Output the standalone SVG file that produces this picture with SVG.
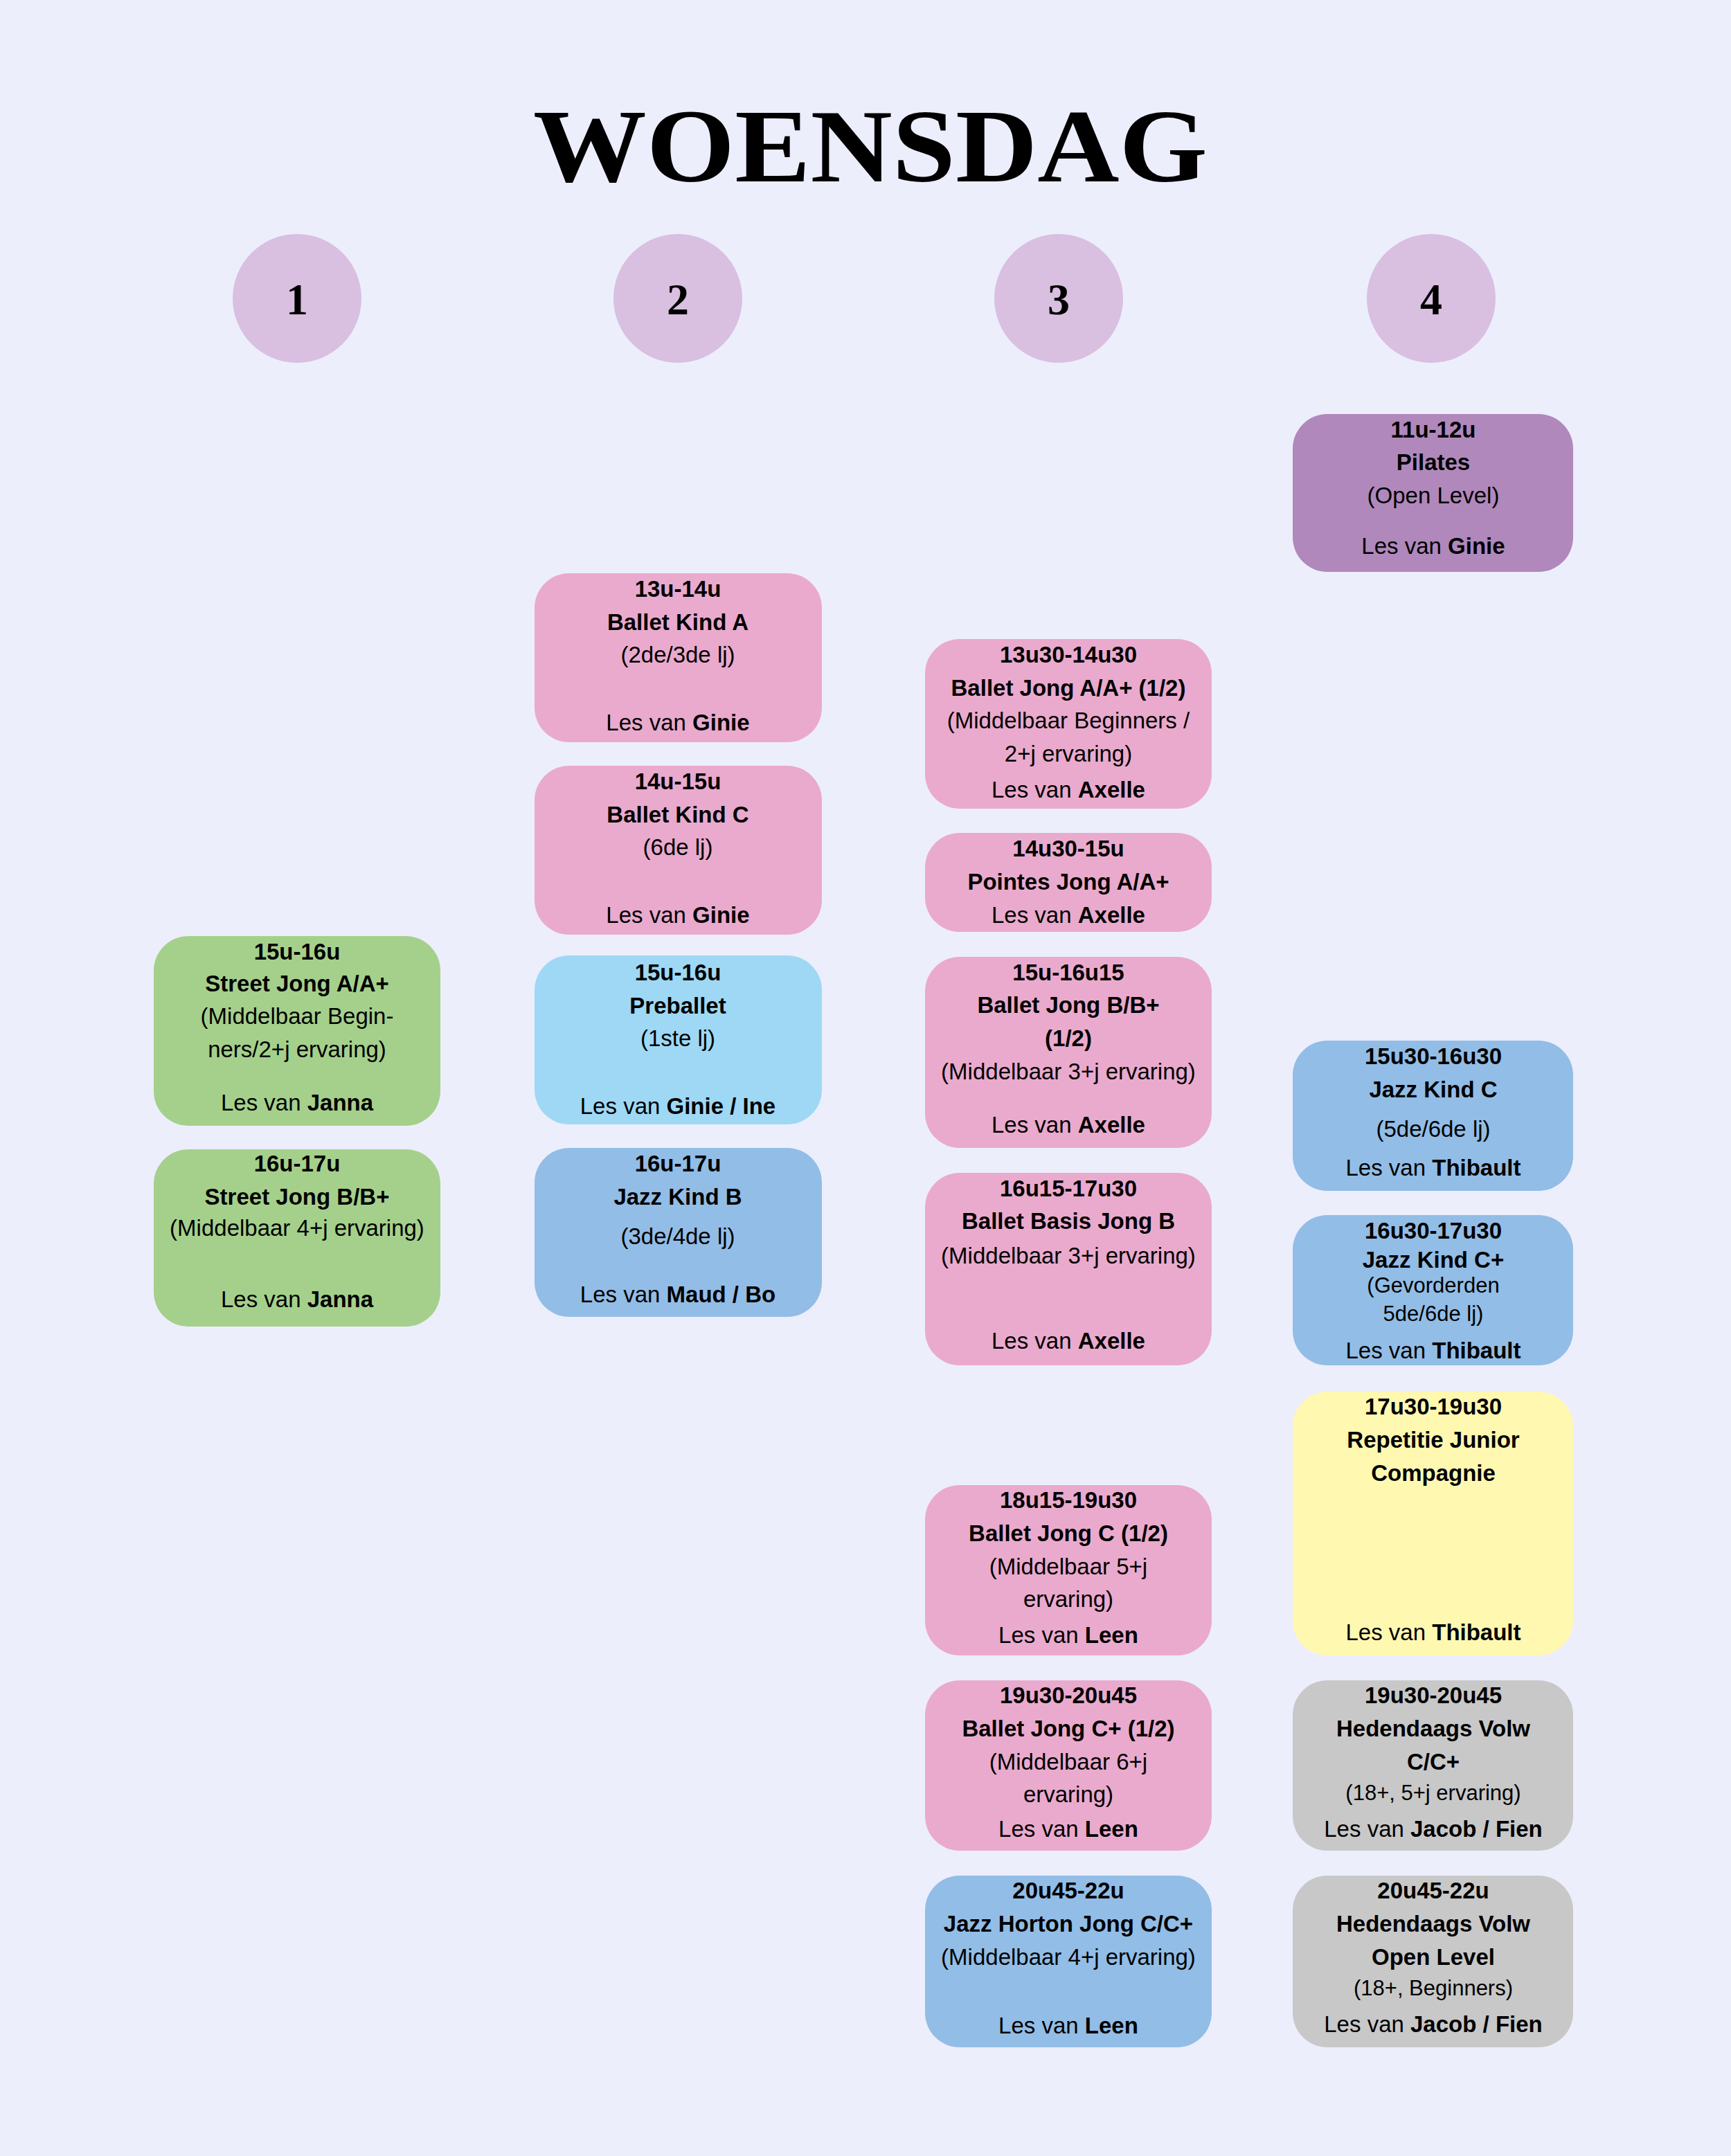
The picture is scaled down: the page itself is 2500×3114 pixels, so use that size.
<svg xmlns="http://www.w3.org/2000/svg" width="2500" height="3114" viewBox="0 0 2500 3114">
<style>
text{font-family:"Liberation Sans",Arial,sans-serif;font-size:33px;text-anchor:middle;fill:#000}
.b{font-weight:bold}
.s{font-size:31px}
.num{font-family:"Liberation Serif",serif;font-weight:bold;font-size:64px}
.title{font-family:"Liberation Serif",serif;font-weight:bold;font-size:150px}
.pk{fill:#eaaacd}.gr{fill:#a5d08c}.lb{fill:#9ed8f5}.bl{fill:#92bde6}.pu{fill:#b088bb}.ye{fill:#fff8b0}.gy{fill:#c8c8c8}
.c{fill:#d9bfe0}
</style>
<rect width="2500" height="3114" fill="#eceefc"/>
<text class="title" x="1257" y="262" textLength="974" lengthAdjust="spacingAndGlyphs">WOENSDAG</text>
<g id="headers">
<circle class="c" cx="429" cy="431" r="93"/><text class="num" x="429" y="454">1</text>
<circle class="c" cx="979" cy="431" r="93"/><text class="num" x="979" y="454">2</text>
<circle class="c" cx="1529" cy="431" r="93"/><text class="num" x="1529" y="454">3</text>
<circle class="c" cx="2067" cy="431" r="93"/><text class="num" x="2067" y="454">4</text>
</g>
<g id="pilates"><rect class="pu" x="1867" y="598" width="405" height="228" rx="50"/>
<text x="2070" y="632" class="b">11u-12u</text><text x="2070" y="679" class="b">Pilates</text><text x="2070" y="727">(Open Level)</text><text x="2070" y="800">Les van <tspan class="b">Ginie</tspan></text></g>
<g id="balletkindA"><rect class="pk" x="772" y="828" width="415" height="244" rx="50"/>
<text x="979" y="862" class="b">13u-14u</text><text x="979" y="910" class="b">Ballet Kind A</text><text x="979" y="957">(2de/3de lj)</text><text x="979" y="1055">Les van <tspan class="b">Ginie</tspan></text></g>
<g id="balletkindC"><rect class="pk" x="772" y="1106" width="415" height="244" rx="50"/>
<text x="979" y="1140" class="b">14u-15u</text><text x="979" y="1188" class="b">Ballet Kind C</text><text x="979" y="1235">(6de lj)</text><text x="979" y="1333">Les van <tspan class="b">Ginie</tspan></text></g>
<g id="preballet"><rect class="lb" x="772" y="1380" width="415" height="244" rx="50"/>
<text x="979" y="1416" class="b">15u-16u</text><text x="979" y="1464" class="b">Preballet</text><text x="979" y="1511">(1ste lj)</text><text x="979" y="1609">Les van <tspan class="b">Ginie / Ine</tspan></text></g>
<g id="jazzkindB"><rect class="bl" x="772" y="1658" width="415" height="244" rx="50"/>
<text x="979" y="1692" class="b">16u-17u</text><text x="979" y="1740" class="b">Jazz Kind B</text><text x="979" y="1797">(3de/4de lj)</text><text x="979" y="1881">Les van <tspan class="b">Maud / Bo</tspan></text></g>
<g id="street1"><rect class="gr" x="222" y="1352" width="414" height="274" rx="50"/>
<text x="429" y="1386" class="b">15u-16u</text><text x="429" y="1432" class="b">Street Jong A/A+</text><text x="429" y="1479">(Middelbaar Begin-</text><text x="429" y="1527">ners/2+j ervaring)</text><text x="429" y="1604">Les van <tspan class="b">Janna</tspan></text></g>
<g id="street2"><rect class="gr" x="222" y="1660" width="414" height="256" rx="50"/>
<text x="429" y="1692" class="b">16u-17u</text><text x="429" y="1740" class="b">Street Jong B/B+</text><text x="429" y="1785">(Middelbaar 4+j ervaring)</text><text x="429" y="1888">Les van <tspan class="b">Janna</tspan></text></g>
<g id="balletjongA"><rect class="pk" x="1336" y="923" width="414" height="245" rx="50"/>
<text x="1543" y="957" class="b">13u30-14u30</text><text x="1543" y="1005" class="b">Ballet Jong A/A+ (1/2)</text><text x="1543" y="1052">(Middelbaar Beginners /</text><text x="1543" y="1100">2+j ervaring)</text><text x="1543" y="1152">Les van <tspan class="b">Axelle</tspan></text></g>
<g id="pointes"><rect class="pk" x="1336" y="1203" width="414" height="143" rx="50"/>
<text x="1543" y="1237" class="b">14u30-15u</text><text x="1543" y="1285" class="b">Pointes Jong A/A+</text><text x="1543" y="1333">Les van <tspan class="b">Axelle</tspan></text></g>
<g id="balletjongB"><rect class="pk" x="1336" y="1382" width="414" height="276" rx="50"/>
<text x="1543" y="1416" class="b">15u-16u15</text><text x="1543" y="1463" class="b">Ballet Jong B/B+</text><text x="1543" y="1511" class="b">(1/2)</text><text x="1543" y="1559">(Middelbaar 3+j ervaring)</text><text x="1543" y="1636">Les van <tspan class="b">Axelle</tspan></text></g>
<g id="balletbasis"><rect class="pk" x="1336" y="1694" width="414" height="278" rx="50"/>
<text x="1543" y="1728" class="b">16u15-17u30</text><text x="1543" y="1775" class="b">Ballet Basis Jong B</text><text x="1543" y="1825">(Middelbaar 3+j ervaring)</text><text x="1543" y="1948">Les van <tspan class="b">Axelle</tspan></text></g>
<g id="balletjongC"><rect class="pk" x="1336" y="2145" width="414" height="246" rx="50"/>
<text x="1543" y="2178" class="b">18u15-19u30</text><text x="1543" y="2226" class="b">Ballet Jong C (1/2)</text><text x="1543" y="2274">(Middelbaar 5+j</text><text x="1543" y="2321">ervaring)</text><text x="1543" y="2373">Les van <tspan class="b">Leen</tspan></text></g>
<g id="balletjongCplus"><rect class="pk" x="1336" y="2427" width="414" height="246" rx="50"/>
<text x="1543" y="2460" class="b">19u30-20u45</text><text x="1543" y="2508" class="b">Ballet Jong C+ (1/2)</text><text x="1543" y="2556">(Middelbaar 6+j</text><text x="1543" y="2603">ervaring)</text><text x="1543" y="2653">Les van <tspan class="b">Leen</tspan></text></g>
<g id="jazzhorton"><rect class="bl" x="1336" y="2709" width="414" height="248" rx="50"/>
<text x="1543" y="2742" class="b">20u45-22u</text><text x="1543" y="2790" class="b">Jazz Horton Jong C/C+</text><text x="1543" y="2838">(Middelbaar 4+j ervaring)</text><text x="1543" y="2937">Les van <tspan class="b">Leen</tspan></text></g>
<g id="jazzkindC"><rect class="bl" x="1867" y="1503" width="405" height="217" rx="50"/>
<text x="2070" y="1537" class="b">15u30-16u30</text><text x="2070" y="1585" class="b">Jazz Kind C</text><text x="2070" y="1642">(5de/6de lj)</text><text x="2070" y="1698">Les van <tspan class="b">Thibault</tspan></text></g>
<g id="jazzkindCplus"><rect class="bl" x="1867" y="1755" width="405" height="217" rx="50"/>
<text x="2070" y="1789" class="b">16u30-17u30</text><text x="2070" y="1831" class="b">Jazz Kind C+</text><text x="2070" y="1867" class="s">(Gevorderden</text><text x="2070" y="1908" class="s">5de/6de lj)</text><text x="2070" y="1962">Les van <tspan class="b">Thibault</tspan></text></g>
<g id="repetitie"><rect class="ye" x="1867" y="2010" width="405" height="381" rx="50"/>
<text x="2070" y="2043" class="b">17u30-19u30</text><text x="2070" y="2091" class="b">Repetitie Junior</text><text x="2070" y="2139" class="b">Compagnie</text><text x="2070" y="2369">Les van <tspan class="b">Thibault</tspan></text></g>
<g id="hedendaags1"><rect class="gy" x="1867" y="2427" width="405" height="246" rx="50"/>
<text x="2070" y="2460" class="b">19u30-20u45</text><text x="2070" y="2508" class="b">Hedendaags Volw</text><text x="2070" y="2556" class="b">C/C+</text><text x="2070" y="2600" class="s">(18+, 5+j ervaring)</text><text x="2070" y="2653">Les van <tspan class="b">Jacob / Fien</tspan></text></g>
<g id="hedendaags2"><rect class="gy" x="1867" y="2709" width="405" height="248" rx="50"/>
<text x="2070" y="2742" class="b">20u45-22u</text><text x="2070" y="2790" class="b">Hedendaags Volw</text><text x="2070" y="2838" class="b">Open Level</text><text x="2070" y="2882" class="s">(18+, Beginners)</text><text x="2070" y="2935">Les van <tspan class="b">Jacob / Fien</tspan></text></g>
<g id="connectors"/>
</svg>
